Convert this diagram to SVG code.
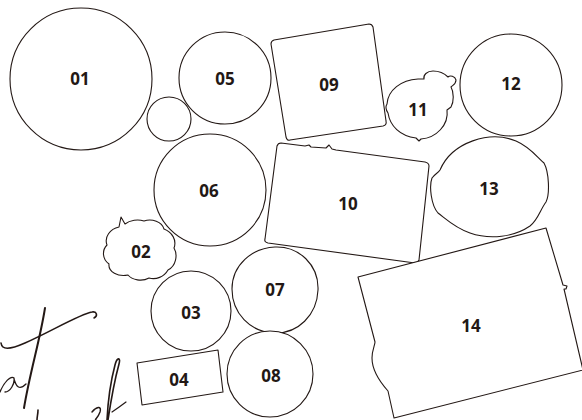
<svg xmlns="http://www.w3.org/2000/svg" width="582" height="420" viewBox="0 0 582 420">
<style>
.s{fill:#fff;stroke:#231815;stroke-width:1.1;stroke-linejoin:round}
.t{font-family:"Noto Sans","DejaVu Sans",sans-serif;font-weight:bold;font-size:17px;fill:#231815;text-anchor:middle;dominant-baseline:central}
.h{fill:none;stroke:#231815;stroke-linecap:round}
</style>
<rect width="582" height="420" fill="#fff"/>
<g id="connectors"></g>
<g id="deco">
<path class="h" stroke-width="1.6" d="M1,343 C2,350 9,350 25,343 C50,332 80,314 92,312 C97,311 98,316 94,318"/>
<path class="h" stroke-width="2" d="M45,308 C40,340 30,372 24,408"/>
<path class="h" stroke-width="1.3" d="M0,392 C4,382 11,375 14,378 C15,384 10,392 5,392 M14,379 C16,386 19,391 26,384"/>
<path class="h" stroke-width="1.6" d="M108,420 C111,400 116,375 119,364 C121,357 117,357 115,365 C111,380 108,400 107,420"/>
<path class="h" stroke-width="1.2" d="M112,412 C118,408 122,405 126,402"/>
<path class="h" stroke-width="1.6" d="M38,410 C38,414 37,417 37,420"/>
<path class="h" stroke-width="1.4" d="M92,412 C96,407 102,405 100,412 C98,418 94,420 96,420"/>
</g>
<g id="n01"><circle class="s" cx="81" cy="79" r="71"/><text class="t" x="80" y="78">01</text></g>
<g id="n00"><circle class="s" cx="169" cy="119" r="22"/></g>
<g id="n05"><circle class="s" cx="225" cy="78" r="46"/><text class="t" x="225" y="78">05</text></g>
<g id="n09"><path class="s" d="M274,40 L369,24 Q372,24 373,27 L386,121 Q387,125 383,126 L290,140 Q287,141 286,137 L271,44 Q271,41 274,40 Z"/><text class="t" x="329" y="84">09</text></g>
<g id="n11"><path class="s" d="M387,104 C388,90 401,80 418,79 L424,79 C423,75 427,71 433,71 C440,71 445,74 448,77 C450,75 455,76 456,80 C456,84 453,85 451,87 C454,92 454,102 451,107 L447,110 C449,125 436,138 421,139 L419,141 L416,138 C400,136 390,126 388,113 C386,110 385,107 387,104 Z"/><text class="t" x="418" y="109">11</text></g>
<g id="n12"><circle class="s" cx="511" cy="85" r="51"/><text class="t" x="511" y="83">12</text></g>
<g id="n06"><circle class="s" cx="210" cy="190" r="56"/><text class="t" x="209" y="190">06</text></g>
<g id="n10"><path class="s" d="M281,143 L305,146 L309,145 L311,147 L326,148 L329,145 L332,149 L336,150 L425,162 Q429,163 429,166 L419,260 Q418,263 415,263 L268,243 Q264,242 265,239 L277,146 Q278,143 281,143 Z"/><text class="t" x="348" y="203">10</text></g>
<g id="n13"><path class="s" d="M440,170 C452,142 490,130 516,141 C530,147 537,157 544,163 C549,172 550,194 546,202 C540,210 538,220 530,226 C514,237 490,240 470,233 C455,228 446,219 438,213 C431,205 429,186 432,178 C435,174 438,173 440,170 Z"/><text class="t" x="489" y="188">13</text></g>
<g id="n02"><path class="s" d="M119,227 L121,217 L125,224 C130,220 138,219 144,221 C152,218 162,222 164,229 C172,232 177,240 174,248 C178,255 176,266 168,270 C164,277 156,280 149,278 C142,282 132,280 128,275 C118,277 108,272 109,264 C102,259 102,250 107,245 C104,237 110,229 119,227 Z"/><text class="t" x="141" y="251">02</text></g>
<g id="n03"><circle class="s" cx="191" cy="311" r="40"/><text class="t" x="191" y="312">03</text></g>
<g id="n07"><path class="s" d="M275,247 C299,246 319,265 318,290 C317,315 298,334 274,333 C250,332 232,313 232,289 C232,265 252,248 275,247 Z"/><text class="t" x="275" y="289">07</text></g>
<g id="n14"><path class="s" d="M358,277 L546,228 L563,285 L567,286 L566,289 L564,289 L583,370 L394,418 L388,391 C380,382 372,370 372,358 C372,350 375,345 375,342 Z"/><text class="t" x="471" y="325">14</text></g>
<g id="n04"><path class="s" d="M137,363 L218,350 L223,392 L142,405 Z"/><text class="t" x="179" y="379">04</text></g>
<g id="n08"><circle class="s" cx="270" cy="374" r="43"/><text class="t" x="271" y="375">08</text></g>
</svg>
